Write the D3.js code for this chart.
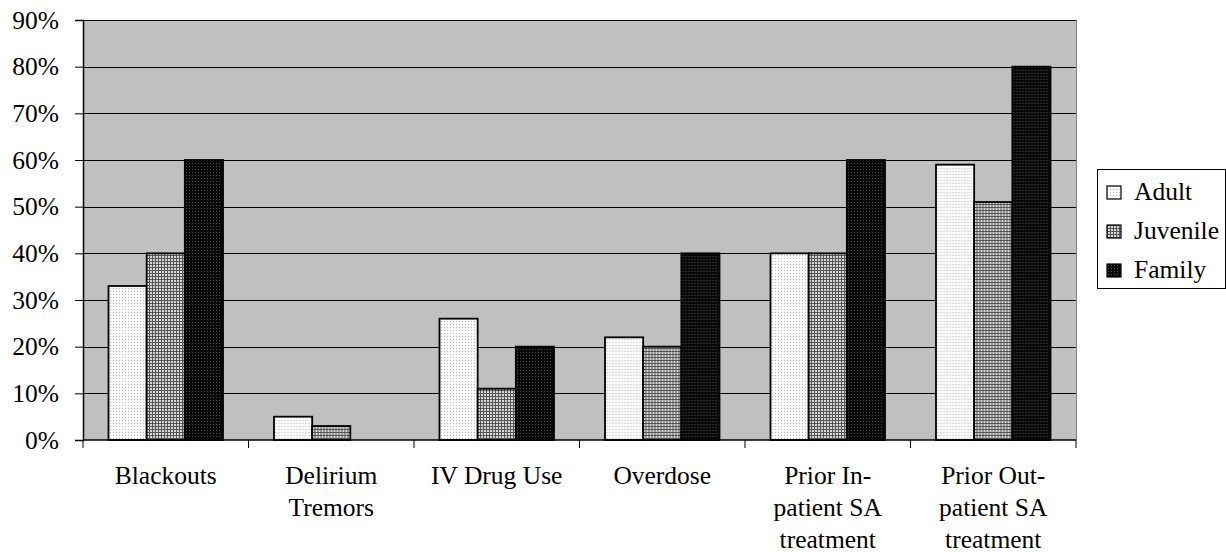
<!DOCTYPE html>
<html>
<head>
<meta charset="utf-8">
<script src="https://d3js.org/d3.v7.min.js"></script>
<style>
  body { margin: 0; background: #fff; }
</style>
</head>
<body>
<svg id="chart" width="1226" height="552"></svg>
<script>
const categories = [
  ["Blackouts"],
  ["Delirium", "Tremors"],
  ["IV Drug Use"],
  ["Overdose"],
  ["Prior In-", "patient SA", "treatment"],
  ["Prior Out-", "patient SA", "treatment"]
]
const seriesNames = ["Adult", "Juvenile", "Family"]
const adult = [33, 5, 26, 22, 40, 59]
const juvenile = [40, 3, 11, 20, 40, 51]
const family = [60, 0, 20, 40, 60, 80]
const yTicks = [0, 10, 20, 30, 40, 50, 60, 70, 80, 90]

const serifFont = "'Liberation Serif', 'Times New Roman', serif"
const fontSize = '25.5px'

const svg = d3.select('#chart')

// patterns for the three series
const defs = svg.append('defs')
const pAdult = defs.append('pattern').attr('id', 'pat0')
  .attr('width', 3).attr('height', 3).attr('patternUnits', 'userSpaceOnUse')
pAdult.append('rect').attr('width', 3).attr('height', 3).attr('fill', '#fafafa')
pAdult.append('rect').attr('width', 1).attr('height', 1).attr('fill', '#b8b8b8')

const pJuv = defs.append('pattern').attr('id', 'pat1')
  .attr('width', 3).attr('height', 3).attr('patternUnits', 'userSpaceOnUse')
pJuv.append('rect').attr('width', 3).attr('height', 3).attr('fill', '#d8d8d8')
pJuv.append('rect').attr('width', 3).attr('height', 1).attr('fill', '#555')
pJuv.append('rect').attr('width', 1).attr('height', 3).attr('fill', '#555')

const pFam = defs.append('pattern').attr('id', 'pat2')
  .attr('width', 3).attr('height', 3).attr('patternUnits', 'userSpaceOnUse')
pFam.append('rect').attr('width', 3).attr('height', 3).attr('fill', '#080808')
pFam.append('rect').attr('x', 1).attr('y', 1).attr('width', 1).attr('height', 1).attr('fill', '#505050')

const plotLeft = 83, plotRight = 1076, plotTop = 20, plotBottom = 440
const width = plotRight - plotLeft
const height = plotBottom - plotTop

const xScale = d3.scaleBand()
  .range([plotLeft, plotRight])
  .domain(d3.range(categories.length))

const x1 = d3.scaleBand()
  .domain(d3.range(seriesNames.length))
  .range([25.5, xScale.bandwidth() - 25.5])

const yScale = d3.scaleLinear()
  .range([plotBottom, plotTop])
  .domain([0, 90])

// plot background
svg.append('rect')
  .attr('x', plotLeft).attr('y', plotTop)
  .attr('width', width).attr('height', height)
  .attr('fill', '#c0c0c0')

svg.append('line')
  .attr('x1', plotRight + 0.5).attr('x2', plotRight + 0.5)
  .attr('y1', plotTop).attr('y2', plotBottom)
  .attr('stroke', '#808080')

// gridlines
svg.append('g').selectAll('line')
  .data(yTicks.slice(1))
  .enter().append('line')
  .attr('x1', plotLeft).attr('x2', plotRight)
  .attr('y1', d => Math.round(yScale(d)) + 0.5)
  .attr('y2', d => Math.round(yScale(d)) + 0.5)
  .attr('stroke', '#000')
  .attr('stroke-width', 1)

// bars
const data = [adult, juvenile, family]
const barGroups = svg.append('g').selectAll('g')
  .data(categories)
  .enter().append('g')
  .attr('transform', (c, i) => `translate(${xScale(i)},0)`)

barGroups.selectAll('rect')
  .data((c, i) => data.map((s, k) => ({ k: k, v: s[i] })).filter(d => d.v > 0))
  .enter().append('rect')
  .attr('x', d => x1(d.k))
  .attr('y', d => yScale(d.v))
  .attr('width', x1.bandwidth())
  .attr('height', d => plotBottom - yScale(d.v))
  .attr('fill', d => `url(#pat${d.k})`)
  .attr('stroke', '#000')
  .attr('stroke-width', 1.8)

// y axis
const yAxis = svg.append('g')
  .attr('transform', `translate(${plotLeft},0)`)
  .call(d3.axisLeft(yScale).tickValues(yTicks).tickFormat(d => d + '%').tickSize(8).tickPadding(16))
yAxis.select('.domain').attr('stroke', '#000').attr('stroke-width', 1.5)
yAxis.selectAll('text')
  .style('font-family', serifFont)
  .style('font-size', fontSize)
  .attr('fill', '#000')

// x axis line and ticks
svg.append('line')
  .attr('x1', plotLeft).attr('x2', plotRight)
  .attr('y1', plotBottom).attr('y2', plotBottom)
  .attr('stroke', '#000').attr('stroke-width', 1.5)

svg.append('g').selectAll('line')
  .data(d3.range(categories.length + 1))
  .enter().append('line')
  .attr('x1', i => i < categories.length ? xScale(i) : plotRight)
  .attr('x2', i => i < categories.length ? xScale(i) : plotRight)
  .attr('y1', plotBottom).attr('y2', plotBottom + 8)
  .attr('stroke', '#000')

// category labels
const labels = svg.append('g').selectAll('text')
  .data(categories)
  .enter().append('text')
  .attr('text-anchor', 'middle')
  .style('font-family', serifFont)
  .style('font-size', fontSize)
  .attr('x', (c, i) => xScale(i) + xScale.bandwidth() / 2)
  .attr('y', 484)

labels.selectAll('tspan')
  .data(c => c)
  .enter().append('tspan')
  .attr('x', function () { return this.parentNode.getAttribute('x') })
  .attr('dy', (t, j) => j === 0 ? 0 : 32)
  .text(t => t)

// legend
const legend = svg.append('g')
legend.append('rect')
  .attr('x', 1097.5).attr('y', 169.5)
  .attr('width', 128).attr('height', 119)
  .attr('fill', '#fff').attr('stroke', '#000')

const legendRows = legend.selectAll('g')
  .data(seriesNames)
  .enter().append('g')
  .attr('transform', (d, i) => `translate(1107, ${192 + i * 39})`)

legendRows.append('rect')
  .attr('x', 0).attr('y', -6)
  .attr('width', 14).attr('height', 13)
  .attr('fill', (d, i) => `url(#pat${i})`)
  .attr('stroke', '#000').attr('stroke-width', 1.2)

legendRows.append('text')
  .attr('x', 27).attr('y', 8)
  .style('font-family', serifFont)
  .style('font-size', fontSize)
  .text(d => d)
</script>
</body>
</html>
